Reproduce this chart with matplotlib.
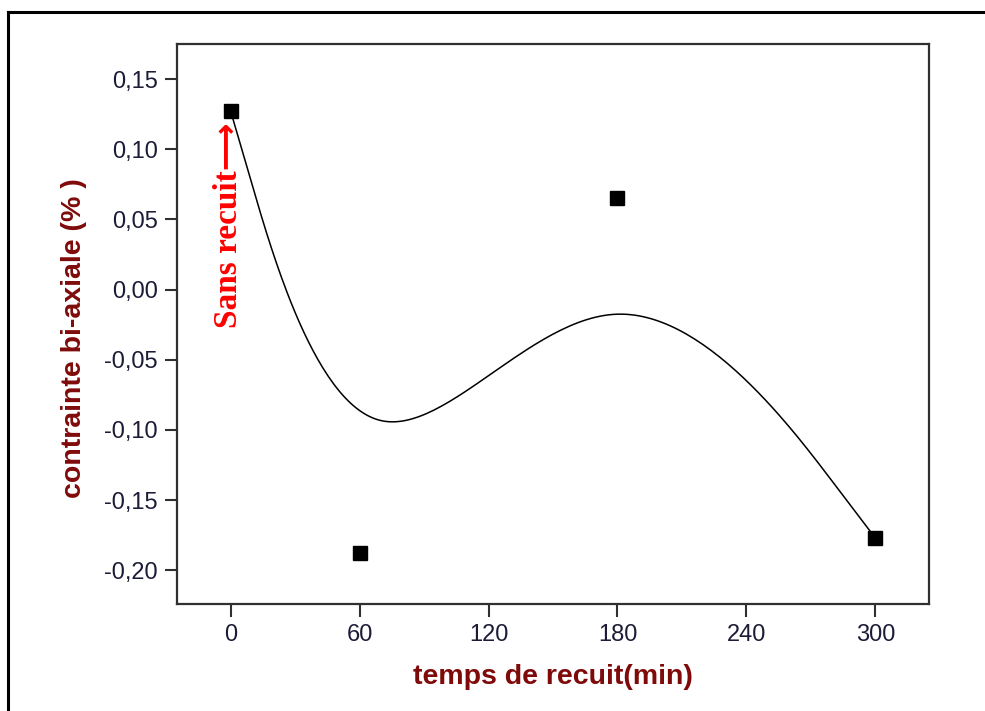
import numpy as np
import matplotlib
matplotlib.use('Agg')
import matplotlib.pyplot as plt
from matplotlib.lines import Line2D
from matplotlib.ticker import FuncFormatter

# data
temps = [0, 60, 180, 300]                      # temps de recuit (min)
contrainte = [0.127, -0.188, 0.065, -0.177]    # contrainte bi-axiale (%)
xticks = [0, 60, 120, 180, 240, 300]
yticks = [0.15, 0.10, 0.05, 0.00, -0.05, -0.10, -0.15, -0.20]

plt.rcParams['font.family'] = ['Liberation Sans', 'DejaVu Sans']


def bspline(xs, ys, n=60):
    # uniform cubic B-spline, end points repeated 3 times (Origin "B-Spline" look)
    px = np.r_[[xs[0]] * 2, xs, [xs[-1]] * 2].astype(float)
    py = np.r_[[ys[0]] * 2, ys, [ys[-1]] * 2].astype(float)
    t = np.linspace(0, 1, n)
    b = np.array([(1 - t) ** 3, 3 * t ** 3 - 6 * t ** 2 + 4,
                  -3 * t ** 3 + 3 * t ** 2 + 3 * t + 1, t ** 3]) / 6
    cx, cy = [], []
    for i in range(len(px) - 3):
        cx.append(b.T @ px[i:i + 4])
        cy.append(b.T @ py[i:i + 4])
    return np.concatenate(cx), np.concatenate(cy)


fig = plt.figure(figsize=(9.85, 7.11), dpi=100)
ax = fig.add_axes([0.1797, 0.1505, 0.7635, 0.7876])

sx, sy = bspline(temps, contrainte)
ax.plot(sx, sy, color='black', lw=1.1)
ax.plot(temps, contrainte, 's', color='black', markersize=9.5, zorder=3)

ax.set_xlim(-25, 325)
ax.set_ylim(-0.224, 0.175)
ax.set_xticks(xticks)
ax.set_yticks(yticks)
ax.yaxis.set_major_formatter(FuncFormatter(lambda v, p: f"{v:.2f}".replace('.', ',').replace('-0,00', '0,00')))

tick_col = '#1c1c38'
ax.tick_params(direction='out', length=9, width=1.5, color='#303030',
               labelsize=17, labelcolor=tick_col)
ax.tick_params(axis='x', pad=5.5)
ax.tick_params(axis='y', pad=5)
for s in ax.spines.values():
    s.set_linewidth(1.6)
    s.set_color('#303030')

lab_col = '#7f0a0a'
ax.set_xlabel('temps de recuit(min)', fontsize=20.5, fontweight='bold', color=lab_col)
ax.xaxis.set_label_coords(0.5, -0.108)
ax.set_ylabel('contrainte bi-axiale (% )', fontsize=20.5, fontweight='bold', color=lab_col)
ax.yaxis.set_label_coords(-0.12, 0.475)

ax.text(-1, -0.0275, 'Sans recuit\u27f6', rotation=90, ha='center', va='bottom',
        color='red', fontsize=24, fontweight='bold',
        family=['Liberation Serif', 'DejaVu Sans'])

# outer frame (top and left edges visible)
fig.add_artist(Line2D([8 / 985, 1], [1 - 12 / 711, 1 - 12 / 711], color='black', lw=2.2,
                      transform=fig.transFigure))
fig.add_artist(Line2D([8 / 985, 8 / 985], [0, 1 - 12 / 711], color='black', lw=2.2,
                      transform=fig.transFigure))

plt.savefig('out.png', dpi=100, facecolor='white')
plt.close()
